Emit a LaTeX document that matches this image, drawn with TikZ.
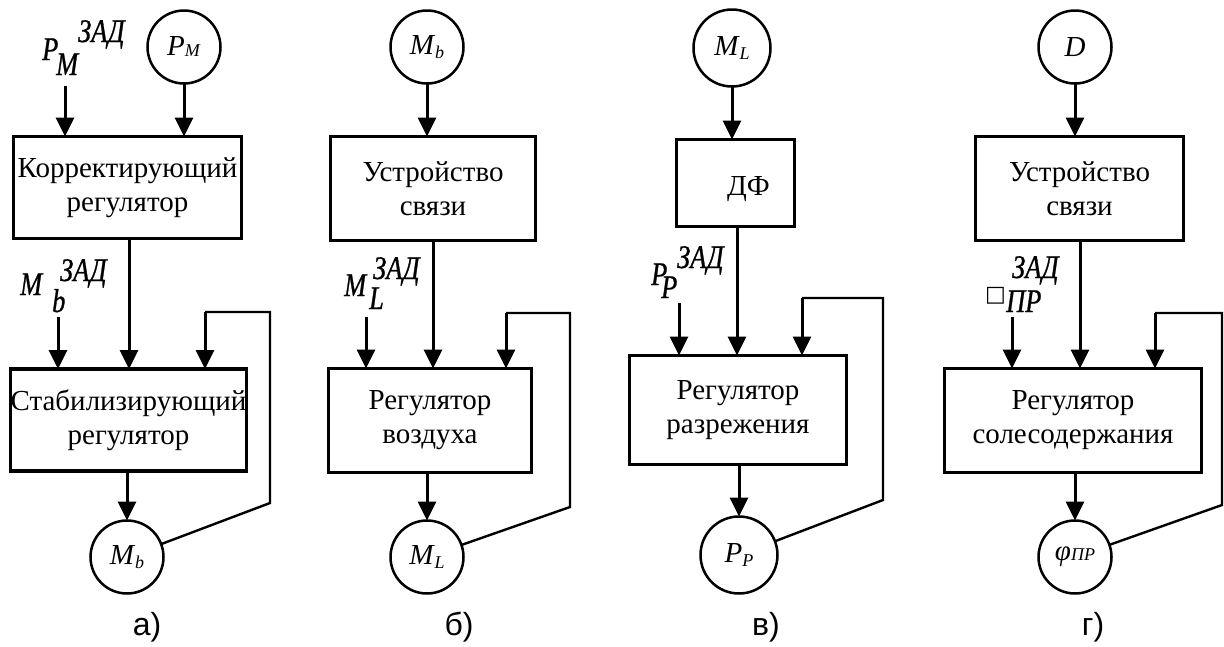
\documentclass[tikz,border=0pt]{standalone}
\usepackage{fontspec}
\setmainfont{Liberation Serif}
\newfontfamily\capfont{Liberation Sans}
\newfontfamily\symfont{DejaVu Sans}
\newfontfamily\lblfont[FakeStretch=0.8,FakeBold=0.8]{Liberation Serif}
\usetikzlibrary{arrows.meta}

% variable with a small subscript, used inside the circles
\newcommand\civ[3][-2pt]{\textit{#2}\raisebox{#1}{\fontsize{18}{18}\selectfont\textit{#3}}}

\tikzset{
  blk/.style={draw, line width=3.2pt, rectangle, inner sep=0pt, outer sep=0pt,
    align=center, font=\fontsize{29}{34}\selectfont},
  circ/.style={draw, circle, line width=2.5pt, minimum size=73pt, inner sep=0pt,
    outer sep=0pt, font=\fontsize{29}{29}\selectfont},
  arr/.style={line width=3pt, -{Triangle[length=19pt,width=18pt]}},
  ln/.style={line width=2.4pt},
  zl/.style={inner sep=0pt, anchor=base west,
    font=\lblfont\fontsize{33}{33}\selectfont\itshape},
  figcap/.style={inner sep=0pt, anchor=base, font=\capfont\fontsize{32}{32}\selectfont},
}

\begin{document}
\begin{tikzpicture}[x=1pt,y=-1pt]
\useasboundingbox (0,0) rectangle (1224,646);

% ---------- a) ----------
\node[circ] (aPM) at (184,47) {\civ[-1pt]{P}{M}};
\node[zl] (aP1) at (42,60) {P};
\node[zl] (aP2) at (56,75) {M};
\node[zl] (aP3) at (78,42) {ЗАД};
\node[blk, minimum width=228pt, minimum height=102pt] (a1) at (127.5,187.5)
  {Корректирующий\\регулятор};
\node[blk, minimum width=236pt, minimum height=102pt] (a2) at (128.5,420)
  {Стабилизирующий\\регулятор};
\node[circ] (aMb) at (127,557) {\civ[-4pt]{M}{b}};
\node[zl] (aM1) at (20,295) {M};
\node[zl] (aM2) at (52,312) {b};
\node[zl] (aM3) at (60,281) {ЗАД};
\node[figcap] (aC) at (147,635) {а)};
\coordinate (aIn1) at (65,86);
\coordinate (aIn2) at (58,317);
\coordinate (aMid) at (129,240);
\coordinate (aBend) at (270,503);
\coordinate (aTop) at (270,312);
\coordinate (aFb) at (205,312);
\draw[arr] (aIn1) -- (aIn1 |- a1.north);
\draw[arr] (aPM) -- (aPM |- a1.north);
\draw[arr] (aMid) -- (aMid |- a2.north);
\draw[arr] (aIn2) -- (aIn2 |- a2.north);
\draw[arr] (aMb |- a2.south) -- (aMb);
\draw[ln] (aMb) -- (aBend) -- (aTop) -- (aFb);
\draw[arr] (aFb) -- (aFb |- a2.north);

% ---------- b) ----------
\node[circ] (bMb) at (427,47) {\civ[-4pt]{M}{b}};
\node[blk, minimum width=205pt, minimum height=104pt] (b1) at (433,188.5)
  {Устройство\\связи};
\node[blk, minimum width=203pt, minimum height=104pt] (b2) at (430,420.5)
  {Регулятор\\воздуха};
\node[circ] (bML) at (427,557) {\civ[-4pt]{M}{L}};
\node[zl] (bM1) at (344,296) {M};
\node[zl] (bM2) at (369,309) {L};
\node[zl] (bM3) at (373,279) {ЗАД};
\node[figcap] (bC) at (459,635) {б)};
\coordinate (bIn) at (366,317);
\coordinate (bMid) at (433,242);
\coordinate (bBend) at (570,507);
\coordinate (bTop) at (570,313);
\coordinate (bFb) at (506,313);
\draw[arr] (bMb) -- (bMb |- b1.north);
\draw[arr] (bMid) -- (bMid |- b2.north);
\draw[arr] (bIn) -- (bIn |- b2.north);
\draw[arr] (bML |- b2.south) -- (bML);
\draw[ln] (bML) -- (bBend) -- (bTop) -- (bFb);
\draw[arr] (bFb) -- (bFb |- b2.north);

% ---------- в) ----------
\node[circ, minimum size=77pt] (cML) at (732,48) {\civ[-4pt]{M}{L}};
\node[blk, minimum width=118pt, minimum height=87pt, text height=32pt]
  (c1) at (735.5,183) {\hspace*{26pt}ДФ};
\node[blk, minimum width=217pt, minimum height=109pt] (c2) at (738,410)
  {Регулятор\\разрежения};
\node[circ, minimum size=77pt] (cPP) at (739,555) {\civ[-4pt]{P}{P}};
\node[zl] (cP1) at (651,285) {P};
\node[zl] (cP2) at (661,298) {P};
\node[zl] (cP3) at (677,268) {ЗАД};
\node[figcap] (cC) at (766,635) {в)};
\coordinate (cIn) at (679,303);
\coordinate (cMid) at (737,228);
\coordinate (cBend) at (883,500);
\coordinate (cTop) at (883,298);
\coordinate (cFb) at (802,298);
\draw[arr] (cML) -- (cML |- c1.north);
\draw[arr] (cMid) -- (cMid |- c2.north);
\draw[arr] (cIn) -- (cIn |- c2.north);
\draw[arr] (cPP |- c2.south) -- (cPP);
\draw[ln] (cPP) -- (cBend) -- (cTop) -- (cFb);
\draw[arr] (cFb) -- (cFb |- c2.north);

% ---------- г) ----------
\node[circ] (dD) at (1075,47) {\textit{D}};
\node[blk, minimum width=208pt, minimum height=104pt] (d1) at (1079.5,188.5)
  {Устройство\\связи};
\node[blk, minimum width=257pt, minimum height=104pt] (d2) at (1073,420.5)
  {Регулятор\\солесодержания};
\node[circ] (dPhi) at (1075,557) {\civ[0pt]{φ}{ПР}};
\node[inner sep=0pt, anchor=base west, font=\symfont\fontsize{22}{22}\selectfont]
  (dS1) at (985,301) {□};
\node[zl] (dS2) at (1012,278) {ЗАД};
\node[zl] (dS3) at (1006,312) {ПР};
\node[figcap] (dC) at (1093,635) {г)};
\coordinate (dIn) at (1012,317);
\coordinate (dMid) at (1080,242);
\coordinate (dBend) at (1222,505);
\coordinate (dTop) at (1222,313);
\coordinate (dFb) at (1155,313);
\draw[arr] (dD) -- (dD |- d1.north);
\draw[arr] (dMid) -- (dMid |- d2.north);
\draw[arr] (dIn) -- (dIn |- d2.north);
\draw[arr] (dPhi |- d2.south) -- (dPhi);
\draw[ln] (dPhi) -- (dBend) -- (dTop) -- (dFb);
\draw[arr] (dFb) -- (dFb |- d2.north);
\end{tikzpicture}
\end{document}
